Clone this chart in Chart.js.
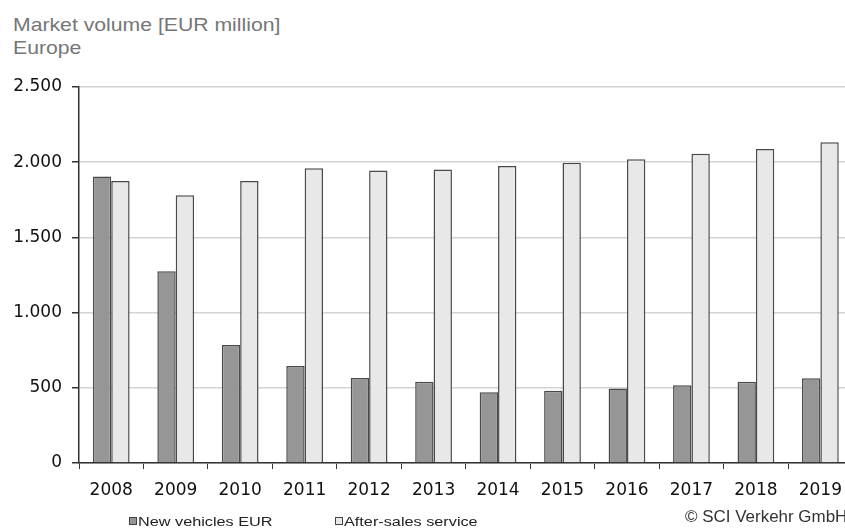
<!DOCTYPE html>
<html>
<head>
<meta charset="utf-8">
<script src="https://cdn.jsdelivr.net/npm/chart.js@4"></script>
<style>
  html, body { margin: 0; padding: 0; background: #fff; overflow: hidden; }
  body { width: 845px; height: 530px; position: relative; font-family: "Liberation Sans", Arial, sans-serif; }
  #wrap { position: absolute; left: 0; top: 0; width: 853px; height: 530px; }
  .txt { position: absolute; line-height: 1; white-space: nowrap; transform-origin: 0 0; }
  .title { left: 12.5px; color: #767676; font-size: 18.5px; transform: scaleX(1.146); }
  .legend { top: 515.5px; font-size: 12.5px; color: #222; transform: scaleX(1.3); }
  .box { position: absolute; top: 517px; width: 8px; height: 8px; box-sizing: border-box; border: 1px solid #444; }
  .copy { left: 685px; top: 509px; font-size: 16px; color: #333; transform: scaleX(1.06); }
</style>
</head>
<body>
<div class="txt title" style="top:16px">Market volume [EUR million]</div>
<div class="txt title" style="top:38.5px">Europe</div>
<div id="wrap"><canvas id="myChart" width="853" height="530"></canvas></div>
<div class="box" style="left:128.5px;background:#969696"></div>
<div class="txt legend" style="left:137.5px">New vehicles EUR</div>
<div class="box" style="left:335px;background:#e8e8e8"></div>
<div class="txt legend" style="left:344px">After-sales service</div>
<div class="txt copy">© SCI Verkehr GmbH</div>
<script>
  // Chart data
  const years = ['2008', '2009', '2010', '2011', '2012', '2013', '2014', '2015', '2016', '2017', '2018', '2019'];
  const newVehicles = [1905, 1275, 785, 645, 565, 540, 470, 480, 495, 517, 540, 563];
  const afterSales = [1875, 1780, 1875, 1960, 1945, 1952, 1975, 1997, 2020, 2057, 2087, 2132];
  const yTicks = [0, 500, 1000, 1500, 2000, 2500];

  function formatNum(v) {
    return String(v).replace(/\B(?=(\d{3})+(?!\d))/g, '.');
  }

  const ctx = document.getElementById('myChart').getContext('2d');
  new Chart(ctx, {
    type: 'bar',
    data: {
      labels: years,
      datasets: [
        {
          label: 'New vehicles EUR',
          data: newVehicles,
          backgroundColor: '#969696',
          borderColor: '#4a4a4a',
          borderWidth: 1.5
        },
        {
          label: 'After-sales service',
          data: afterSales,
          backgroundColor: '#e8e8e8',
          borderColor: '#4a4a4a',
          borderWidth: 1.5
        }
      ]
    },
    options: {
      responsive: false,
      animation: false,
      categoryPercentage: 0.57,
      barPercentage: 1,
      layout: { padding: { top: 87, left: 0, right: 0, bottom: 0 } },
      scales: {
        x: {
          grid: { drawOnChartArea: false, drawTicks: true, tickLength: 6, tickColor: '#333', offset: true },
          border: { color: '#333', width: 1.5 },
          ticks: { color: '#111', font: { family: 'DejaVu Sans', size: 17 }, padding: 11 },
          afterFit: (scale) => { scale.height = 67; }
        },
        y: {
          min: 0,
          max: 2500,
          afterBuildTicks: (scale) => { scale.ticks = yTicks.map(v => ({ value: v })); },
          grid: { color: '#d4d4d4', lineWidth: 1.5, tickLength: 7, tickColor: '#333' },
          border: { color: '#333', width: 1.5 },
          ticks: {
            color: '#111',
            font: { family: 'DejaVu Sans', size: 17 },
            padding: 10,
            callback: (v) => formatNum(v)
          },
          afterFit: (scale) => { scale.width = 79; }
        }
      },
      plugins: {
        legend: { display: false },
        tooltip: { enabled: false }
      }
    }
  });
</script>
</body>
</html>
